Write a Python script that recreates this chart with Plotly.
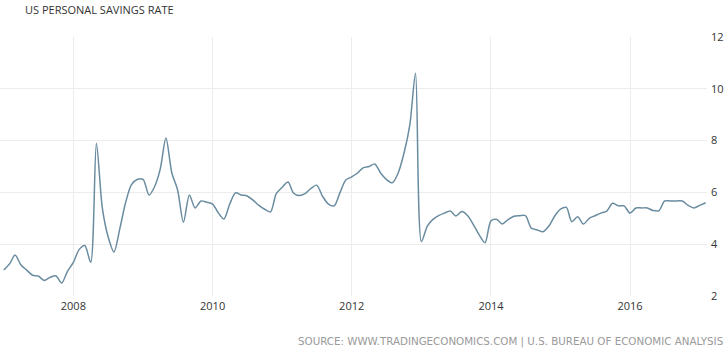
import pandas as pd
import plotly.graph_objects as go

title_text = "US PERSONAL SAVINGS RATE"
source_text = "SOURCE: WWW.TRADINGECONOMICS.COM | U.S. BUREAU OF ECONOMIC ANALYSIS"

start_month = "2007-01-01"
rate_2007 = [3.0, 3.25, 3.58, 3.2, 3.0, 2.8, 2.77, 2.6, 2.72, 2.78, 2.5, 2.95]
rate_2008 = [3.3, 3.8, 3.95, 3.3, 7.9, 5.4, 4.3, 3.7, 4.6, 5.6, 6.3, 6.5]
rate_2009 = [6.5, 5.9, 6.2, 6.9, 8.1, 6.75, 6.1, 4.85, 5.9, 5.4, 5.67, 5.62]
rate_2010 = [5.55, 5.2, 4.97, 5.55, 5.98, 5.9, 5.86, 5.7, 5.5, 5.35, 5.25, 5.95]
rate_2011 = [6.2, 6.4, 5.98, 5.88, 5.95, 6.15, 6.28, 5.85, 5.55, 5.48, 6.0, 6.48]
rate_2012 = [6.6, 6.75, 6.95, 7.0, 7.1, 6.75, 6.5, 6.37, 6.75, 7.5, 8.6, 10.6]
rate_2013 = [4.1, 4.7, 4.95, 5.1, 5.2, 5.28, 5.09, 5.26, 5.1, 4.75, 4.35, 4.06]
rate_2014 = [4.9, 4.95, 4.78, 4.95, 5.08, 5.1, 5.1, 4.62, 4.55, 4.48, 4.7, 5.08]
rate_2015 = [5.35, 5.42, 4.87, 5.06, 4.78, 5.0, 5.1, 5.2, 5.28, 5.58, 5.48, 5.48]
rate_2016 = [5.2, 5.4, 5.4, 5.4, 5.3, 5.3, 5.67, 5.67, 5.67, 5.67, 5.5, 5.4]
rate_2017 = [5.5, 5.6]

rates = (rate_2007 + rate_2008 + rate_2009 + rate_2010 + rate_2011 + rate_2012
         + rate_2013 + rate_2014 + rate_2015 + rate_2016 + rate_2017)
dates = pd.date_range(start_month, periods=len(rates), freq="MS")

y_ticks = [2, 4, 6, 8, 10, 12]

W, H = 728, 352
ml, mr, mt, mb = 0, 21, 37, 56
pw = W - ml - mr
ph = H - mt - mb

fig = go.Figure()
fig.add_trace(go.Scatter(
    x=dates, y=rates, mode="lines",
    line=dict(color="#6a8ca0", width=1.5, shape="spline", smoothing=0.8),
    hoverinfo="skip", showlegend=False,
))

fig.update_layout(
    width=W, height=H,
    margin=dict(l=ml, r=mr, t=mt, b=mb),
    paper_bgcolor="white", plot_bgcolor="white",
    font=dict(family="Open Sans", size=11, color="#333333"),
    xaxis=dict(
        range=["2006-12-12", "2017-02-08"],
        tick0="2008-01-01", dtick="M24", tickformat="%Y",
        showgrid=True, gridcolor="#ececec", gridwidth=1,
        showline=False, zeroline=False, ticks="",
        ticklabelstandoff=2,
        tickfont=dict(size=11, color="#333333"),
    ),
    yaxis=dict(
        range=[2, 12], tickvals=y_ticks, side="right",
        showgrid=True, gridcolor="#ececec", gridwidth=1,
        showline=False, zeroline=False, ticks="",
        ticklabelstandoff=3,
        tickfont=dict(size=11, color="#333333"),
    ),
    annotations=[
        dict(text=title_text, xref="paper", yref="paper",
             x=23 / pw, y=1 + (mt - 9) / ph, xanchor="left", yanchor="middle",
             showarrow=False, font=dict(family="Open Sans", size=11, color="#333333")),
        dict(text=source_text, xref="paper", yref="paper",
             x=725 / pw, y=-(341 - (H - mb)) / ph, xanchor="right", yanchor="middle",
             showarrow=False, font=dict(family="DejaVu Sans", size=10.3, color="#9a9a9a")),
    ],
)

fig.write_html("out.html")
